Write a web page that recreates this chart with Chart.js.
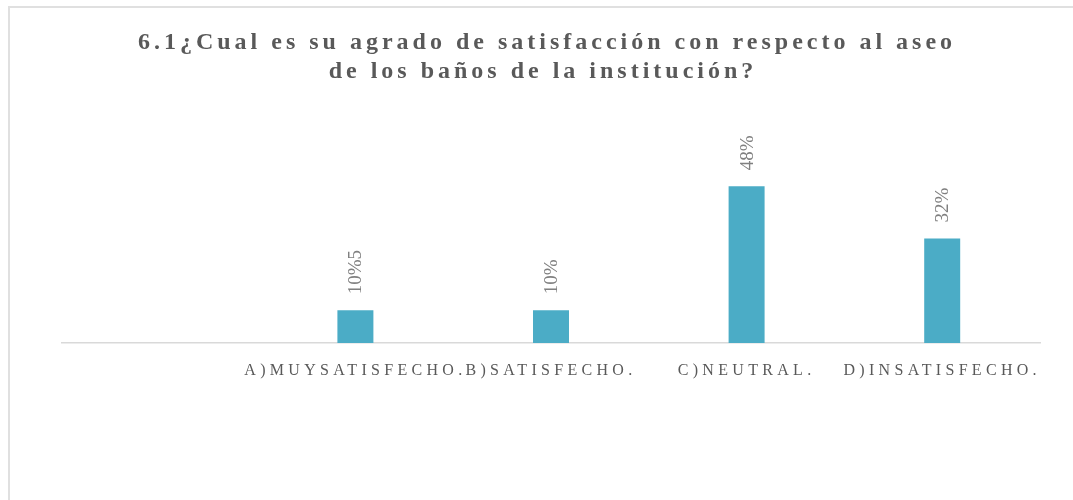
<!DOCTYPE html>
<html>
<head>
<meta charset="utf-8">
<script src="https://cdn.jsdelivr.net/npm/chart.js@4/dist/chart.umd.min.js"></script>
<style>
  html, body { margin: 0; padding: 0; background: #fff; overflow: hidden; }
  #frame { position: absolute; left: 8px; top: 6px; width: 1200px; height: 700px; border: 2px solid #e0e0e0; box-sizing: border-box; }
  #wrap { position: absolute; left: 0; top: 0; width: 1073px; height: 500px; }
</style>
</head>
<body>
<div id="frame"></div>
<div id="wrap"><canvas id="c" width="1073" height="500"></canvas></div>
<script>
const titleLines = ["6.1¿Cual es su agrado de satisfacción con respecto al aseo", "de los baños de la institución?"];
const categories = ["", "A)MUYSATISFECHO.", "B)SATISFECHO.", "C)NEUTRAL.", "D)INSATISFECHO."];
const values = [null, 0.10, 0.10, 0.48, 0.32];
const valueLabels = ["", "10%5", "10%", "48%", "32%"];

const spacingPlugin = {
  id: 'spacing',
  beforeDraw(chart) { chart.ctx.letterSpacing = '4.3px'; },
  beforeDatasetsDraw(chart) { chart.ctx.letterSpacing = '0px'; },
  afterDatasetsDraw(chart) {
    const ctx = chart.ctx;
    const meta = chart.getDatasetMeta(0);
    ctx.save();
    ctx.letterSpacing = '0px';
    ctx.fillStyle = '#808080';
    ctx.font = '19px "Liberation Serif", serif';
    ctx.textAlign = 'left';
    ctx.textBaseline = 'middle';
    meta.data.forEach((bar, i) => {
      if (values[i] == null) return;
      ctx.save();
      ctx.translate(bar.x + 1, bar.y - 16);
      ctx.rotate(-Math.PI / 2);
      ctx.fillText(valueLabels[i], 0, 0);
      ctx.restore();
    });
    ctx.restore();
  },
  afterDraw(chart) {
    const ctx = chart.ctx;
    ctx.save();
    ctx.letterSpacing = '4px';
    ctx.fillStyle = '#595959';
    ctx.font = 'bold 24px "Liberation Serif", serif';
    ctx.textAlign = 'center';
    ctx.textBaseline = 'alphabetic';
    ctx.fillText(titleLines[0], 547, 49);
    ctx.fillText(titleLines[1], 543, 78);
    ctx.restore();
  }
};

new Chart(document.getElementById('c'), {
  type: 'bar',
  data: {
    labels: categories,
    datasets: [{
      data: values,
      backgroundColor: '#4bacc6',
      borderWidth: 0,
      barPercentage: 1,
      categoryPercentage: 0.184
    }]
  },
  options: {
    responsive: false,
    animation: false,
    events: [],
    layout: { padding: { left: 62, right: 33, top: 147, bottom: 0 } },
    plugins: { legend: { display: false }, title: { display: false }, tooltip: { enabled: false } },
    scales: {
      x: {
        grid: { display: false, drawTicks: false },
        border: { display: true, color: '#d9d9d9', width: 1.5 },
        ticks: {
          autoSkip: false, maxRotation: 0, minRotation: 0,
          color: '#595959', padding: 18,
          font: { family: '"Liberation Serif", serif', size: 16 }
        },
        afterFit(scale) { scale.height = 157; }
      },
      y: { display: false, min: 0, max: 0.6 }
    }
  },
  plugins: [spacingPlugin]
});
</script>
</body>
</html>
